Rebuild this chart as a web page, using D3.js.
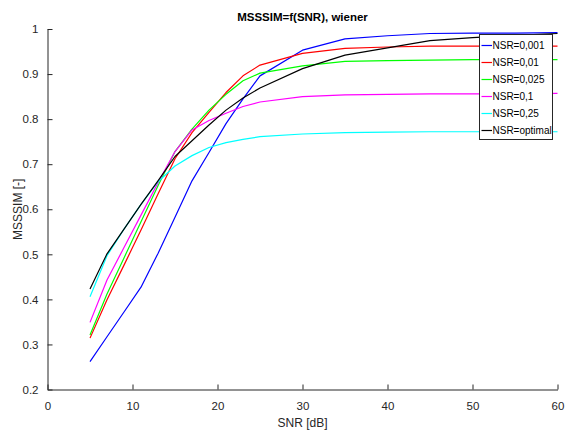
<!DOCTYPE html>
<html>
<head>
<meta charset="utf-8">
<script src="https://cdn.jsdelivr.net/npm/d3@7"></script>
<style>
  html, body { margin: 0; padding: 0; background: #fff; }
  svg { display: block; font-family: "Liberation Sans", Arial, sans-serif; }
</style>
</head>
<body>
<svg id="chart" width="574" height="436"></svg>
<script>
// SNR sample points (dB)
const snr = [5, 7, 9, 11, 13, 15, 17, 19, 21, 23, 25, 30, 35, 40, 45, 50, 55, 60];

// MSSSIM for each Wiener NSR setting
const nsr0001 = [0.262, 0.317, 0.372, 0.427, 0.502, 0.582, 0.663, 0.726, 0.790, 0.845, 0.896, 0.953, 0.978, 0.985, 0.990, 0.991, 0.991, 0.992];
const nsr001  = [0.314, 0.399, 0.476, 0.554, 0.634, 0.712, 0.770, 0.815, 0.859, 0.896, 0.920, 0.946, 0.957, 0.960, 0.962, 0.962, 0.962, 0.962];
const nsr0025 = [0.321, 0.412, 0.492, 0.572, 0.652, 0.728, 0.778, 0.820, 0.855, 0.885, 0.902, 0.918, 0.928, 0.930, 0.931, 0.932, 0.932, 0.932];
const nsr01   = [0.349, 0.443, 0.515, 0.587, 0.659, 0.728, 0.776, 0.797, 0.813, 0.828, 0.838, 0.850, 0.854, 0.855, 0.856, 0.856, 0.856, 0.857];
const nsr025  = [0.406, 0.497, 0.556, 0.611, 0.661, 0.696, 0.719, 0.737, 0.748, 0.755, 0.761, 0.767, 0.770, 0.771, 0.772, 0.772, 0.772, 0.772];
const nsrOpt  = [0.423, 0.501, 0.556, 0.611, 0.663, 0.717, 0.752, 0.787, 0.820, 0.847, 0.869, 0.912, 0.942, 0.958, 0.974, 0.981, 0.986, 0.990];

const seriesNames = ["NSR=0,001", "NSR=0,01", "NSR=0,025", "NSR=0,1", "NSR=0,25", "NSR=optimal"];
const seriesValues = [nsr0001, nsr001, nsr0025, nsr01, nsr025, nsrOpt];
const seriesColors = ["#0000ff", "#ff0000", "#00ff00", "#ff00ff", "#00ffff", "#000000"];

const xTicks = [0, 10, 20, 30, 40, 50, 60];
const yTicks = [0.2, 0.3, 0.4, 0.5, 0.6, 0.7, 0.8, 0.9, 1];

const titleText = "MSSSIM=f(SNR), wiener";
const xLabel = "SNR [dB]";
const yLabel = "MSSSIM [-]";

const svg = d3.select("#chart");
const plot = { left: 47.5, right: 557.5, top: 29, bottom: 389.5 };
const axisColor = "#262626";

const x = d3.scaleLinear().domain([0, 60]).range([plot.left, plot.right]);
const y = d3.scaleLinear().domain([0.2, 1]).range([plot.bottom, plot.top]);

// Data lines
const line = d3.line().x((d, i) => x(snr[i])).y(d => y(d));
const lines = svg.append("g");
seriesValues.forEach((vals, k) => {
  lines.append("path")
    .datum(vals)
    .attr("d", line)
    .attr("fill", "none")
    .attr("stroke", seriesColors[k])
    .attr("stroke-width", 1.2)
    .attr("stroke-linejoin", "round");
});

// Axes (ticks drawn inward)
const xAxis = d3.axisBottom(x).tickValues(xTicks).tickFormat(d3.format("d"))
  .tickSizeInner(-5).tickSizeOuter(0).tickPadding(12);
const yAxis = d3.axisLeft(y).tickValues(yTicks).tickFormat(d => d === 1 ? "1" : d3.format(".1f")(d))
  .tickSizeInner(-5).tickSizeOuter(0).tickPadding(9);

const gx = svg.append("g").attr("transform", `translate(0,${plot.bottom})`).call(xAxis);
const gy = svg.append("g").attr("transform", `translate(${plot.left},0)`).call(yAxis);
[gx, gy].forEach(g => {
  g.select(".domain").attr("stroke", axisColor).attr("stroke-width", 1);
  g.selectAll(".tick line").attr("stroke", axisColor);
  g.selectAll(".tick text").attr("fill", axisColor)
    .style("font-size", "11.5px").style("font-family", "'Liberation Sans', Arial, sans-serif");
});

// Title and axis labels
svg.append("text")
  .attr("x", (plot.left + plot.right) / 2).attr("y", 21)
  .attr("text-anchor", "middle")
  .style("font-size", "11.5px").style("font-weight", "bold")
  .attr("fill", "#000")
  .text(titleText);

svg.append("text")
  .attr("x", (plot.left + plot.right) / 2).attr("y", 427)
  .attr("text-anchor", "middle")
  .style("font-size", "12px")
  .attr("fill", axisColor)
  .text(xLabel);

svg.append("text")
  .attr("transform", `translate(22,${(plot.top + plot.bottom) / 2}) rotate(-90)`)
  .attr("text-anchor", "middle")
  .style("font-size", "12px")
  .attr("fill", axisColor)
  .text(yLabel);

// Legend
const legend = svg.append("g").attr("transform", "translate(479.5,34.5)");
legend.append("rect")
  .attr("width", 73).attr("height", 105)
  .attr("fill", "#fff").attr("stroke", axisColor).attr("stroke-width", 1);
seriesNames.forEach((name, k) => {
  const cy = 11 + k * 17;
  legend.append("line")
    .attr("x1", 2).attr("x2", 12.5).attr("y1", cy).attr("y2", cy)
    .attr("stroke", seriesColors[k]).attr("stroke-width", 1.2);
  legend.append("text")
    .attr("x", 13).attr("y", cy + 3.6)
    .style("font-size", "10px")
    .attr("fill", "#000")
    .text(name);
});
</script>
</body>
</html>
